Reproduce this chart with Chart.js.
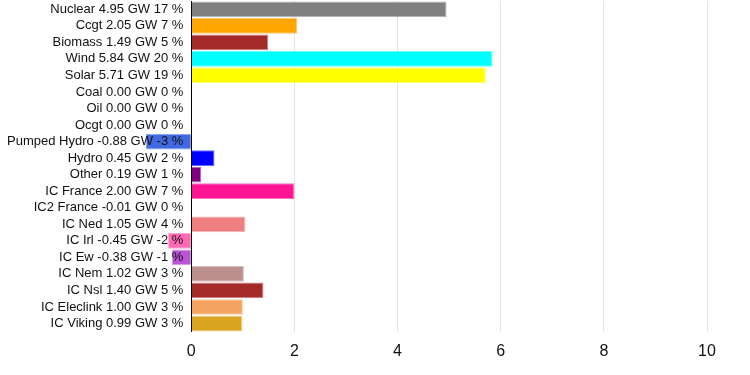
<!DOCTYPE html>
<html>
<head>
<meta charset="utf-8">
<style>
    html, body { margin: 0; padding: 0; background: #fff; }
    #wrap { width: 750px; height: 375px; }
</style>
<script src="https://cdn.jsdelivr.net/npm/chart.js@4"></script>
</head>
<body>
<div id="wrap"><canvas id="genChart"></canvas></div>
<script>
// Generation mix by source
const sources = ['Nuclear', 'Ccgt', 'Biomass', 'Wind', 'Solar', 'Coal', 'Oil', 'Ocgt',
    'Pumped Hydro', 'Hydro', 'Other', 'IC France', 'IC2 France', 'IC Ned', 'IC Irl',
    'IC Ew', 'IC Nem', 'IC Nsl', 'IC Eleclink', 'IC Viking'];
const gigawatts = [4.95, 2.05, 1.49, 5.84, 5.71, 0.00, 0.00, 0.00,
    -0.88, 0.45, 0.19, 2.00, -0.01, 1.05, -0.45,
    -0.38, 1.02, 1.40, 1.00, 0.99];
const percents = [17, 7, 5, 20, 19, 0, 0, 0, -3, 2, 1, 7, 0, 4, -2, -1, 3, 5, 3, 3];
const colours = ['#808080', '#ffa500', '#a52a2a', '#00ffff', '#ffff00', '#000000', '#000000', '#000000',
    '#4169e1', '#0000ff', '#800080', '#ff1493', '#ff00ff', '#f08080', '#ff69b4',
    '#ba55d3', '#bc8f8f', '#a52a2a', '#f4a460', '#daa520'];
const xTicks = [0, 2, 4, 6, 8, 10];

const labels = sources.map((s, i) => `${s} ${gigawatts[i].toFixed(2)} GW ${percents[i]} %`);

new Chart(document.getElementById('genChart'), {
    type: 'bar',
    data: {
        labels: labels,
        datasets: [{
            data: gigawatts,
            backgroundColor: colours,
            borderColor: colours.map(c => c + '99'),
            borderWidth: 1,
            barPercentage: 1,
            categoryPercentage: 0.95,
            clip: false
        }]
    },
    options: {
        indexAxis: 'y',
        responsive: true,
        maintainAspectRatio: false,
        animation: false,
        layout: { padding: { top: 1, right: 43, bottom: 4, left: 7 } },
        plugins: {
            legend: { display: false },
            tooltip: { enabled: false }
        },
        scales: {
            x: {
                min: 0,
                max: 10,
                afterBuildTicks: axis => { axis.ticks = xTicks.map(v => ({ value: v })); },
                border: { display: false },
                grid: {
                    drawTicks: false,
                    color: ctx => ctx.tick && ctx.tick.value === 0 ? '#000000' : '#e4e4e4'
                },
                ticks: {
                    padding: 10,
                    color: '#111',
                    font: { family: 'Arial, "Liberation Sans"', size: 16 }
                }
            },
            y: {
                // no half-label padding at the top, bars start at the edge
                afterFit: axis => { axis.paddingTop = 0; axis.paddingBottom = 0; },
                border: { display: false },
                grid: { display: false },
                ticks: {
                    z: 1,
                    autoSkip: false,
                    padding: 0,
                    color: '#111',
                    font: { family: 'Arial, "Liberation Sans"', size: 13 }
                }
            }
        }
    }
});
</script>
</body>
</html>
